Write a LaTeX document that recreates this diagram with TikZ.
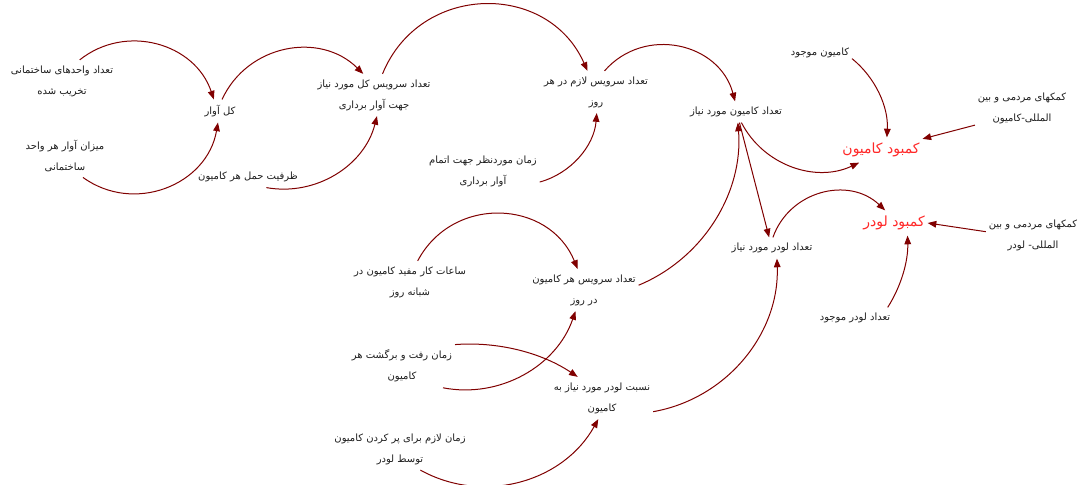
\documentclass[tikz,border=0pt]{standalone}
\usepackage{fontspec}
\usetikzlibrary{arrows.meta}
\TeXXeTstate=1
\newfontfamily\arabicfont[Script=Arabic]{DejaVu Sans}
\newcommand{\rtl}[1]{{\beginR #1\endR}}
\definecolor{arc}{RGB}{128,0,0}
\definecolor{txt}{RGB}{30,30,30}
\definecolor{redtxt}{RGB}{255,40,40}
\tikzset{
  var/.style={font=\arabicfont\fontsize{7.5}{15.75}\selectfont, text=txt, align=center, inner xsep=2pt, inner ysep=4pt},
  big/.style={font=\arabicfont\fontsize{10.5}{13}\selectfont, text=redtxt, align=center, inner xsep=2pt, inner ysep=4pt},
  lnk/.style={draw=arc, line width=0.75pt, -{Triangle[length=6.5pt,width=5pt]}},
  bl/.code={\pgfmathsetmacro\lnsA{0.8514/(cos(#1/2)^2)}\edef\tmpA{\noexpand\pgfkeysalso{bend left=#1,looseness=\lnsA}}\tmpA},
  br/.code={\pgfmathsetmacro\lnsA{0.8514/(cos(#1/2)^2)}\edef\tmpA{\noexpand\pgfkeysalso{bend right=#1,looseness=\lnsA}}\tmpA},
}
\begin{document}
\begin{tikzpicture}[x=0.75pt,y=0.75pt]
\useasboundingbox[fill=white] (0,0) rectangle (1078,485);
\node[var] (A) at (62,404) {\rtl{تعداد واحدهای ساختمانی}\\\rtl{تخریب شده}};
\node[var] (B) at (65,329) {\rtl{میزان آوار هر واحد}\\\rtl{ساختمانی}};
\node[var] (C) at (220,374) {\rtl{کل آوار}};
\node[var] (D) at (248,308) {\rtl{ظرفیت حمل هر کامیون}};
\node[var] (E) at (374,390) {\rtl{تعداد سرویس کل مورد نیاز}\\\rtl{جهت آوار برداری}};
\node[var] (F) at (596,393) {\rtl{تعداد سرویس لازم در هر}\\\rtl{روز}};
\node[var] (G) at (483,314) {\rtl{زمان موردنظر جهت اتمام}\\\rtl{آوار برداری}};
\node[var] (H) at (736,373) {\rtl{تعداد کامیون مورد نیاز}};
\node[var] (I) at (820,432) {\rtl{کامیون موجود}};
\node[big] (J) at (881,335) {\rtl{کمبود کامیون}};
\node[var] (K) at (1022,377) {\rtl{کمکهای مردمی و بین}\\\rtl{المللی-کامیون}};
\node[big] (L) at (894,262) {\rtl{کمبود لودر}};
\node[var] (M) at (1033,250) {\rtl{کمکهای مردمی و بین}\\\rtl{المللی- لودر}};
\node[var] (N) at (772,237) {\rtl{تعداد لودر مورد نیاز}};
\node[var] (O) at (855,167) {\rtl{تعداد لودر موجود}};
\node[var] (P) at (410,203) {\rtl{ساعات کار مفید کامیون در}\\\rtl{شبانه روز}};
\node[var] (Q) at (584,195) {\rtl{تعداد سرویس هر کامیون}\\\rtl{در روز}};
\node[var] (R) at (402,119) {\rtl{زمان رفت و برگشت هر}\\\rtl{کامیون}};
\node[var] (S) at (602,87) {\rtl{نسبت لودر مورد نیاز به}\\\rtl{کامیون}};
\node[var] (T) at (400,36) {\rtl{زمان لازم برای پر کردن کامیون}\\\rtl{توسط لودر}};
\draw[lnk] (A.50) to[bl=55] (C.118);
\draw[lnk] (B.310) to[br=58] (C.260);
\draw[lnk] (C.80) to[bl=55] (E.117);
\draw[lnk] (D.330) to[br=43] (E.278);
\draw[lnk] (E.68) to[bl=67] (F.112);
\draw[lnk] (G.349) to[br=35] (F.272);
\draw[lnk] (F.68) to[bl=62] (H.95);
\draw[lnk] (I.350) to[bl=27] (J.65);
\draw[lnk] (K.200) -- (J.15);
\draw[lnk] (H.297) to[br=44] (J.210);
\draw[lnk] (H.288) -- (N.105);
\draw[lnk] (Q.5) to[br=36] (H.280);
\draw[lnk] (N.85) to[bl=57] (L.125);
\draw[lnk] (M.176) -- (L.0);
\draw[lnk] (O.18) to[br=17] (L.317);
\draw[lnk] (P.70) to[bl=65] (Q.107);
\draw[lnk] (R.332) to[br=41] (Q.248);
\draw[lnk] (R.22) to[bl=19] (S.139);
\draw[lnk] (T.314) to[br=45] (S.260);
\draw[lnk] (S.345) to[br=41] (N.295);
\end{tikzpicture}
\end{document}
